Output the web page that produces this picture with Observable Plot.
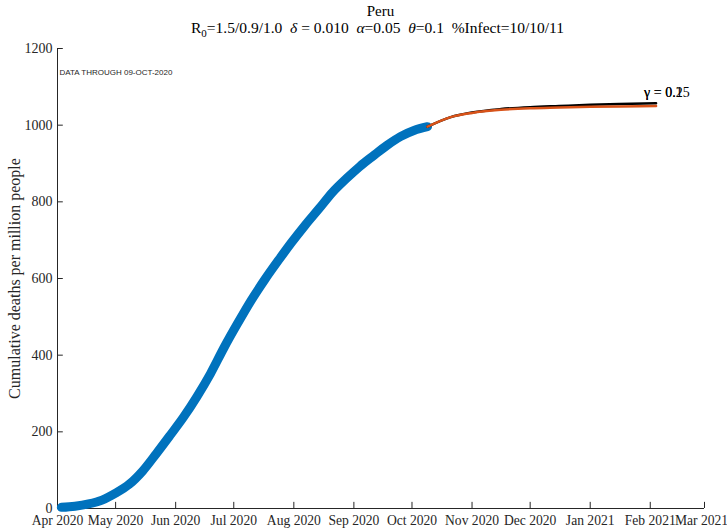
<!DOCTYPE html>
<html>
<head>
<meta charset="utf-8">
<script src="https://cdn.jsdelivr.net/npm/d3@7"></script>
<script src="https://cdn.jsdelivr.net/npm/@observablehq/plot@0.6"></script>
<style>
  body { margin: 0; background: #fff; font-family: "Liberation Serif", serif; overflow: hidden; }
  #head { height: 36px; width: 727px; position: relative; color: #000; }
  #t1 { position: absolute; left: 0; width: 761px; text-align: center; top: 3px; font-size: 15px; line-height: 16px; }
  #t2 { position: absolute; left: 0; width: 755px; text-align: center; top: 20px; font-size: 15.5px; line-height: 16px; white-space: pre; }
  #t2 sub { font-size: 11px; vertical-align: -4px; line-height: 0; }
</style>
</head>
<body>
<div id="head">
  <div id="t1">Peru</div>
  <div id="t2">R<sub>0</sub>=1.5/0.9/1.0  <i>δ</i> = 0.010  <i>α</i>=0.05  <i>θ</i>=0.1  %Infect=10/10/11</div>
</div>
<div id="chart"></div>
<script>
const obsDates = ["2020-04-03","2020-04-10","2020-04-17","2020-04-24","2020-05-01","2020-05-08","2020-05-15","2020-05-22","2020-05-29","2020-06-05","2020-06-12","2020-06-19","2020-06-26","2020-07-03","2020-07-10","2020-07-17","2020-07-24","2020-07-31","2020-08-07","2020-08-14","2020-08-21","2020-08-28","2020-09-04","2020-09-11","2020-09-18","2020-09-25","2020-10-02","2020-10-09"];
const obsValues = [3,6,12,22,40,63,98,143,190,238,292,352,420,483,543,597,647,695,740,782,825,860,892,920,947,970,986,996];

const projDates = ["2020-10-09","2020-10-21","2020-11-01","2020-11-16","2020-12-01","2020-12-16","2021-01-01","2021-01-16","2021-02-04"];
const projLow = [996,1021,1032,1040,1044,1046,1048,1049,1050];   // gamma = 0.25 (orange)
const projHigh = [996,1021,1033,1042,1047,1050,1053,1055,1057];  // gamma = 0.1 (black)

const gammaLabels = ["γ = 0.1", "γ = 0.25"];
const xTicks = ["2020-04-01","2020-05-01","2020-06-01","2020-07-01","2020-08-01","2020-09-01","2020-10-01","2020-11-01","2020-12-01","2021-01-01","2021-02-01","2021-03-01"];
const xTickLabels = ["Apr 2020","May 2020","Jun 2020","Jul 2020","Aug 2020","Sep 2020","Oct 2020","Nov 2020","Dec 2020","Jan 2021","Feb 2021","Mar 2021"];
const yTicks = [0,200,400,600,800,1000,1200];
const note = "DATA THROUGH 09-OCT-2020";

const P = d3.utcParse("%Y-%m-%d");
const obs = obsDates.map((d,i) => ({date: P(d), value: obsValues[i]}));
const low = projDates.map((d,i) => ({date: P(d), value: projLow[i]}));
const high = projDates.map((d,i) => ({date: P(d), value: projHigh[i]}));
const xt = xTicks.map(P);
const x0 = xt[0];
const labelMap = new Map(xt.map((d,i) => [+d, xTickLabels[i]]));
const axisColor = "#262626";

const chart = Plot.plot({
  width: 727,
  height: 492,
  marginLeft: 57,
  marginRight: 23,
  marginTop: 12,
  marginBottom: 20,
  style: {fontFamily: "Liberation Serif, serif", fontSize: "14px", color: axisColor, background: "#fff", overflow: "visible"},
  x: {type: "utc", domain: [P("2020-04-01"), P("2021-03-01")]},
  y: {domain: [0, 1200]},
  marks: [
    Plot.ruleY([0], {stroke: axisColor}),
    Plot.ruleX([x0], {stroke: axisColor}),
    Plot.ruleX(xt, {x: d => d, y1: d => 0, y2: d => 16, stroke: axisColor, strokeWidth: 1}),
    Plot.ruleY(yTicks, {y: d => d, x1: d => x0, x2: d => d3.utcDay.offset(x0, 3), stroke: axisColor, strokeWidth: 1}),
    Plot.axisX({ticks: xt, tickSize: 0, tickPadding: 7, tickFormat: d => labelMap.get(+d), fontSize: 13.6, label: null, fill: axisColor}),
    Plot.axisY({ticks: yTicks, tickSize: 0, tickPadding: 5, tickFormat: d => String(d), fontSize: 14, label: "Cumulative deaths per million people", labelAnchor: "center", labelArrow: "none", labelOffset: 49, fill: axisColor}),
    Plot.line(obs, {x: "date", y: "value", stroke: "#0072BD", strokeWidth: 9, strokeLinecap: "round", curve: "monotone-x"}),
    Plot.line(high, {x: "date", y: "value", stroke: "#000", strokeWidth: 2.5, curve: "monotone-x"}),
    Plot.line(low, {x: "date", y: "value", stroke: "#D95319", strokeWidth: 2.5, curve: "monotone-x"}),
    Plot.text(gammaLabels, {x: () => P("2021-02-04"), y: () => projHigh[projHigh.length-1], text: d => d, textAnchor: "start", dx: -12, dy: -11, fontSize: 14, fill: "#000"}),
    Plot.text([note], {x: () => x0, y: () => 1200, text: d => d, textAnchor: "start", dx: 2, dy: 24, fontSize: 8, fontFamily: "Liberation Sans, sans-serif", fill: axisColor})
  ]
});
chart.querySelectorAll("g[aria-label='y-axis label'] text, g[aria-label='y-axis label']").forEach(el => el.setAttribute("font-size", "16"));
const xLabels = chart.querySelectorAll("g[aria-label='x-axis tick label'] text");
if (xLabels.length) {
  const last = xLabels[xLabels.length - 1];
  last.setAttribute("transform", (last.getAttribute("transform") || "") + " translate(-3,0)");
}
document.getElementById("chart").appendChild(chart);
</script>
</body>
</html>
